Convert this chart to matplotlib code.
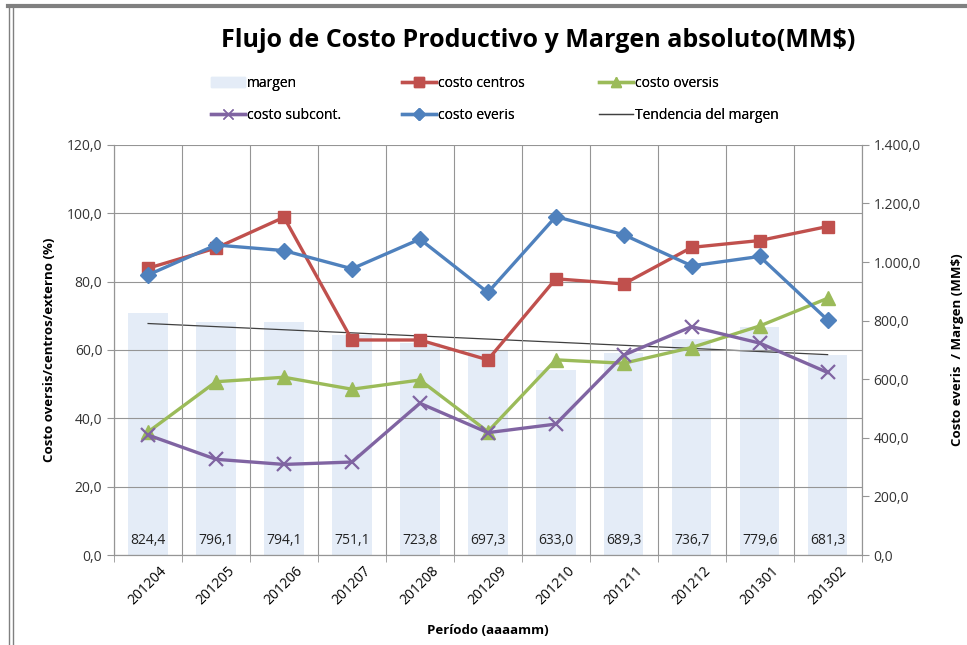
import numpy as np
import matplotlib
matplotlib.use('Agg')
from matplotlib import pyplot as plt
from matplotlib.ticker import FuncFormatter, FixedLocator
from matplotlib.lines import Line2D

plt.rcParams['font.family'] = ['Open Sans', 'DejaVu Sans']

periodos = ['201204', '201205', '201206', '201207', '201208', '201209',
            '201210', '201211', '201212', '201301', '201302']
margen = [824.4, 796.1, 794.1, 751.1, 723.8, 697.3, 633.0, 689.3, 736.7, 779.6, 681.3]
costo_centros = [83.9, 89.8, 98.8, 62.9, 62.9, 57.1, 80.8, 79.3, 90.0, 92.0, 96.1]
costo_oversis = [36.0, 50.7, 52.0, 48.5, 51.2, 36.1, 57.1, 56.1, 60.7, 67.0, 75.1]
costo_subcont = [35.1, 28.0, 26.5, 27.2, 44.4, 35.8, 38.3, 58.5, 66.8, 62.0, 53.4]
costo_everis = [956, 1058, 1039, 977, 1078, 896, 1155, 1093, 987, 1019, 802]

c_margen = '#e4ecf7'
c_centros = '#c0504d'
c_oversis = '#9bbb59'
c_subcont = '#8064a2'
c_everis = '#4f81bd'
grid_c = '#959595'

x = np.arange(len(periodos))

fig = plt.figure(figsize=(9.67, 6.45), dpi=100)
ax = fig.add_axes([0.118, 0.1395, 0.773, 0.636])
ax2 = ax.twinx()

ax.set_xlim(-0.5, len(x) - 0.5)
ax.set_ylim(0, 120)
ax2.set_ylim(0, 1400)

# bars + trend on the right axis
ax2.bar(x, margen, width=0.58, color=c_margen, zorder=1)
coef = np.polyfit(x, margen, 1)
ax2.plot(x, np.polyval(coef, x), color='#404040', lw=0.9, zorder=2)
for i, v in enumerate(margen):
    ax2.text(i, 50, f'{v:.1f}'.replace('.', ','), ha='center', va='center',
             fontsize=10, color='#222222', zorder=3)

ax.set_zorder(ax2.get_zorder() + 1)
ax.patch.set_visible(False)

ax.plot(x, costo_centros, color=c_centros, lw=2.4, marker='s', ms=9, zorder=5)
ax.plot(x, costo_oversis, color=c_oversis, lw=2.4, marker='^', ms=10, zorder=5)
ax.plot(x, costo_subcont, color=c_subcont, lw=2.4, marker='x', ms=10, mew=1.6, zorder=5)
# everis belongs to the right axis; drawn on ax (converted to its units) so it sits on top
ev = ax2.transData.transform(np.column_stack([x, costo_everis]))
ev = ax.transData.inverted().transform(ev)
ax.plot(ev[:, 0], ev[:, 1], color=c_everis, lw=2.4, marker='D', ms=8, zorder=6)
ax.set_ylim(0, 120)

ax.set_yticks(np.arange(0, 121, 20))
ax2.set_yticks(np.arange(0, 1401, 200))
ax.yaxis.set_major_formatter(FuncFormatter(lambda v, p: f'{v:.1f}'.replace('.', ',')))
ax2.yaxis.set_major_formatter(FuncFormatter(
    lambda v, p: f'{v:,.1f}'.replace(',', 'X').replace('.', ',').replace('X', '.')))

ax.set_xticks(x)
ax.set_xticklabels(periodos, rotation=45, ha='center', va='top', fontsize=10)
ax.xaxis.set_minor_locator(FixedLocator(np.arange(-0.5, len(x), 1)))
ax.tick_params(axis='x', which='major', length=0, pad=6)
ax.tick_params(axis='x', which='minor', length=5, color=grid_c)
ax.grid(axis='y', color=grid_c, lw=0.8)
ax.grid(axis='x', which='minor', color=grid_c, lw=0.8)
ax.tick_params(axis='y', labelsize=10, color=grid_c, length=5, labelcolor='#333333')
ax2.tick_params(axis='y', labelsize=10, color=grid_c, length=5, labelcolor='#333333')

for a in (ax, ax2):
    a.spines['top'].set_visible(False)
    for s in ('left', 'right', 'bottom'):
        a.spines[s].set_color(grid_c)

ax.set_ylabel('Costo oversis/centros/externo (%)', fontsize=9.5, fontweight='bold', labelpad=8)
ax2.set_ylabel('Costo everis  / Margen (MM$)', fontsize=9.5, fontweight='bold', labelpad=22)
ax.set_xlabel('Período (aaaamm)', fontsize=9.5, fontweight='bold', labelpad=12)

fig.text(0.557, 0.937, 'Flujo de Costo Productivo y Margen absoluto(MM$)',
         ha='center', va='center', fontsize=18, fontweight='bold')

# legend: three fixed columns like the original
cols = [
    ([plt.Rectangle((0, 0), 1, 1, color=c_margen),
      Line2D([], [], color=c_subcont, lw=2.4, marker='x', ms=7)],
     ['margen', 'costo subcont.'], 0.218),
    ([Line2D([], [], color=c_centros, lw=2.4, marker='s', ms=7),
      Line2D([], [], color=c_everis, lw=2.4, marker='D', ms=6)],
     ['costo centros', 'costo everis'], 0.416),
    ([Line2D([], [], color=c_oversis, lw=2.4, marker='^', ms=7),
      Line2D([], [], color='#404040', lw=0.9)],
     ['costo oversis', 'Tendencia del margen'], 0.619),
]
for h, l, xpos in cols:
    leg = fig.legend(h, l, loc='center left', bbox_to_anchor=(xpos, 0.846),
                     frameon=False, fontsize=10, handlelength=2.45, handletextpad=0.15,
                     labelspacing=1.2, borderaxespad=0, borderpad=0)
    fig.add_artist(leg)

# page frame of the original screenshot
fig.add_artist(Line2D([0.008, 1.0], [0.99, 0.99], color='#808080', lw=3))
fig.add_artist(Line2D([0.009, 0.009], [0.0, 0.99], color='#808080', lw=1))
fig.add_artist(Line2D([0.013, 0.013], [0.0, 0.99], color='#808080', lw=1))

fig.savefig('out.png', dpi=100)
